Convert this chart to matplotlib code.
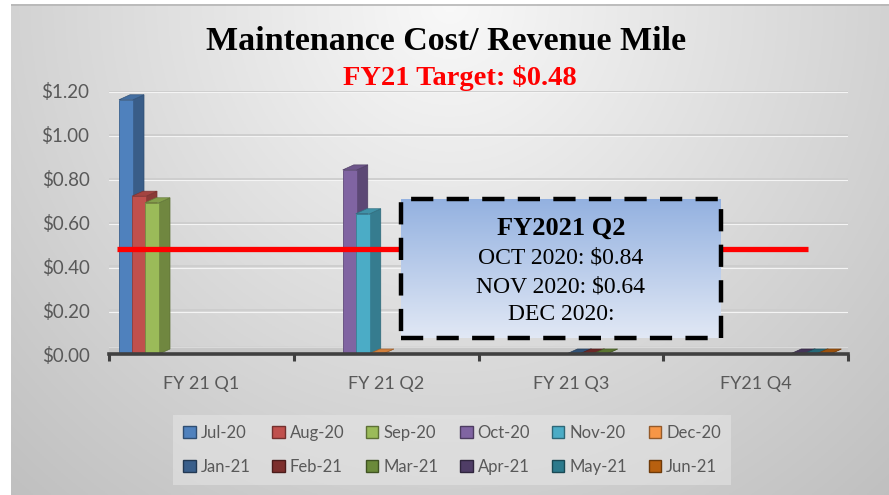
import numpy as np
import matplotlib
matplotlib.use("Agg")
import matplotlib.pyplot as plt
from matplotlib.patches import Polygon, Rectangle, Patch
import matplotlib.colors as mcolors

# ---------------- data ----------------
categories = ["FY 21 Q1", "FY 21 Q2", "FY 21 Q3", "FY21 Q4"]
month_labels = ["Jul-20", "Aug-20", "Sep-20", "Oct-20", "Nov-20", "Dec-20",
                "Jan-21", "Feb-21", "Mar-21", "Apr-21", "May-21", "Jun-21"]
month_values = [1.16, 0.72, 0.69, 0.84, 0.64, 0.0,
                0.0, 0.0, 0.0, 0.0, 0.0, 0.0]
month_quarter = [0, 0, 0, 1, 1, 1, 2, 2, 2, 3, 3, 3]
month_colors = ["#4F81BD", "#C0504D", "#9BBB59", "#8064A2", "#4BACC6", "#F79646",
                "#3A5F8B", "#7D2F2D", "#6B8A3A", "#4F3D66", "#2C7A8C", "#B8600F"]
target_value = 0.48
title_text = "Maintenance Cost/ Revenue Mile"
subtitle_text = "FY21 Target: $0.48"
box_title = "FY2021 Q2"
box_lines = ["OCT 2020: $0.84", "NOV 2020: $0.64", "DEC 2020:"]
yticks = [0.0, 0.2, 0.4, 0.6, 0.8, 1.0, 1.2]

W, H = 889, 495
fig = plt.figure(figsize=(W / 100, H / 100), dpi=100)
fig.patch.set_facecolor("white")

def fx(px):
    return px / W

def fy(py):
    return 1 - py / H

# ---------------- background gradient ----------------
bg = fig.add_axes([fx(11), 0, fx(W) - fx(11), fy(4)])
bg.set_axis_off()
gx, gy = np.meshgrid(np.linspace(-1, 1, 400), np.linspace(0, 1, 250))
r = np.sqrt((gx * 1.0) ** 2 + (gy * 1.1) ** 2)
val = 0.975 - 0.15 * np.clip(r, 0, 1.6)
img = np.dstack([val, val, val])
bg.imshow(img, aspect="auto", extent=[0, 1, 0, 1], origin="upper")
bg.plot([0, 1], [0.998, 0.998], color="#b5b5b5", lw=1.2)
bg.set_xlim(0, 1)
bg.set_ylim(0, 1)

# ---------------- main axes ----------------
ax_left, ax_right, ax_bottom, ax_top = 109, 848, 354, 91
ax = fig.add_axes([fx(ax_left), fy(ax_bottom), fx(ax_right) - fx(ax_left),
                   fy(ax_top) - fy(ax_bottom)])
ax.patch.set_alpha(0)
ax.set_xlim(-0.5, len(categories) - 0.5)
ax.set_ylim(0, 1.2)

cat_px = (ax_right - ax_left) / len(categories)
ypx = 1.2 / (ax_bottom - ax_top)
off = 10 / cat_px
slot = 13.0 / cat_px
front_w = 14.0 / cat_px
depth_x = 11 / cat_px
depth_y = 5 * ypx

# gridlines
for yv in yticks[1:]:
    ax.axhline(yv, color="#cdcdcd", lw=1.3, zorder=0.5)
    ax.axhline(yv - 1.5 * ypx, color="#f4f4f4", lw=0.8, zorder=0.4)

# floor
ax.axhspan(0, 7 * ypx, color="#c6c6c6", zorder=1)
ax.axhline(7 * ypx, color="#dadada", lw=0.8, zorder=1.1)

def shade(c, f):
    rgb = np.array(mcolors.to_rgb(c))
    return tuple(np.clip(rgb * f, 0, 1))

for i, (lab, v, q, c) in enumerate(zip(month_labels, month_values, month_quarter, month_colors)):
    xl = q - 0.5 + off + i * slot
    xr = xl + front_w
    z = 2 + i * 0.1
    side = Polygon([(xr, 0), (xr, v), (xr + depth_x, v + depth_y), (xr + depth_x, depth_y)],
                   closed=True, facecolor=shade(c, 0.72), edgecolor=shade(c, 0.6), lw=0.5, zorder=z)
    ax.add_patch(side)
    top = Polygon([(xl, v), (xl + depth_x, v + depth_y), (xr + depth_x, v + depth_y), (xr, v)],
                  closed=True, facecolor=shade(c, 0.85), edgecolor=shade(c, 0.65), lw=0.5, zorder=z + 0.01)
    ax.add_patch(top)
    if v > 0:
        ax.bar(xl, v, width=front_w, align="edge", color=c, edgecolor=shade(c, 0.75),
               lw=0.6, zorder=z + 0.02)

# target line
tx0 = -0.5 + (117 - ax_left) / cat_px
tx1 = -0.5 + (808 - ax_left) / cat_px
ax.plot([tx0, tx1], [target_value, target_value], color="#ff0000", lw=3.8,
        solid_capstyle="butt", zorder=5)

# axes styling
for s in ["top", "right", "left"]:
    ax.spines[s].set_visible(False)
ax.spines["bottom"].set_color("#404040")
ax.spines["bottom"].set_linewidth(2.6)
ax.spines["bottom"].set_zorder(6)
ax.set_yticks(yticks)
ax.set_yticklabels([f"${t:.2f}" for t in yticks])
ax.set_xticks(range(len(categories)))
ax.set_xticklabels(categories)
ax.set_xticks(np.arange(-0.5, len(categories)), minor=True)
ax.tick_params(axis="x", which="major", length=0, pad=16, labelsize=13, labelcolor="#595959")
ax.tick_params(axis="x", which="minor", length=5, width=2.2, color="#404040")
ax.tick_params(axis="y", length=0, pad=14, labelsize=13.5, labelcolor="#595959")
for t in ax.get_xticklabels() + ax.get_yticklabels():
    t.set_fontfamily("Lato")

# titles
fig.text(fx(446), fy(42), title_text, ha="center", va="center", fontsize=24.5,
         fontweight="bold", family="Liberation Serif", color="black")
fig.text(fx(460), fy(78), subtitle_text, ha="center", va="center", fontsize=20.5,
         fontweight="bold", family="Liberation Serif", color="#ff0000")

# text box
bx0, bx1, by0, by1 = 401, 721, 199, 338
bax = fig.add_axes([fx(bx0), fy(by1), fx(bx1) - fx(bx0), fy(by0) - fy(by1)])
bax.set_axis_off()
top_c = np.array(mcolors.to_rgb("#93b1e0"))
bot_c = np.array(mcolors.to_rgb("#e1e8f5"))
tgrad = np.linspace(0, 1, 100)[:, None]
grad = top_c[None, None, :] * (1 - tgrad[..., None]) + bot_c[None, None, :] * tgrad[..., None]
grad = np.repeat(grad, 10, axis=1)
bax.imshow(grad, aspect="auto", extent=[0, 1, 0, 1], origin="upper")
bax.set_xlim(0, 1)
bax.set_ylim(0, 1)
rect = Rectangle((fx(bx0), fy(by1)), fx(bx1) - fx(bx0), fy(by0) - fy(by1),
                 transform=fig.transFigure, fill=False, ec="black", lw=3.2,
                 ls=(0, (5, 3)), zorder=20)
fig.add_artist(rect)
cx = (bx0 + bx1) / 2
fig.text(fx(cx), fy(228), box_title, ha="center", va="center", fontsize=19,
         fontweight="bold", family="Liberation Serif", color="black", zorder=21)
for k, line in enumerate(box_lines):
    fig.text(fx(cx), fy(258 + k * 28.5), line, ha="center", va="center", fontsize=17,
             family="Liberation Serif", color="black", zorder=21)

# legend
handles = [Patch(facecolor=c, edgecolor=shade(c, 0.6), lw=1.0) for c in month_colors]
seq = []
for col in range(6):
    seq += [col, col + 6]
leg = fig.legend([handles[i] for i in seq], [month_labels[i] for i in seq],
                 ncol=6, loc="center", bbox_to_anchor=(fx(452), fy(450)),
                 frameon=True, facecolor="#e6e6e6", edgecolor="none", framealpha=0.55,
                 fancybox=False, handlelength=0.75, handleheight=0.75,
                 handletextpad=0.3, columnspacing=1.3, labelspacing=1.1,
                 borderpad=0.6, prop={"family": "Lato", "size": 12})
for t in leg.get_texts():
    t.set_color("#595959")

fig.savefig("out.png", dpi=100)
